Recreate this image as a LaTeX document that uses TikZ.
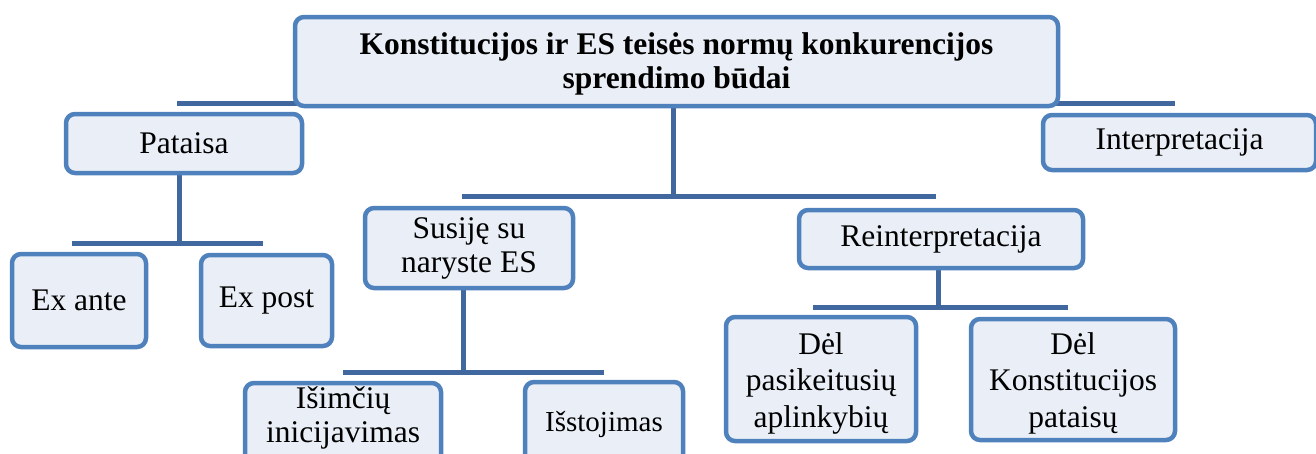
\documentclass[tikz,border=0pt]{standalone}
\usepackage{fontspec}
\setmainfont{Liberation Serif}
\definecolor{bord}{HTML}{4F81BD}
\definecolor{fillc}{HTML}{EAEFF7}
\definecolor{connc}{HTML}{41689E}
\pgfdeclarelayer{background}
\pgfsetlayers{background,main}
\begin{document}
\begin{tikzpicture}[x=1pt,y=-1pt,
  box/.style={draw=bord, fill=fillc, line width=4.5pt, rounded corners=9pt, inner sep=0pt, align=center, font=\fontsize{31.5}{34}\selectfont},
  link/.style={draw=connc, line width=5pt},
  txt/.style={inner sep=0pt, align=center, font=\fontsize{31.5}{34}\selectfont}]
\useasboundingbox (0,0) rectangle (1316,453);
\clip (0,0) rectangle (1316,453);

\node[box, minimum width=763, minimum height=89] (top) at (676.5,61.5) {};
\node[txt, font=\bfseries\fontsize{31.5}{34}\selectfont] (topT) at (676.5,63.5) {Konstitucijos ir ES teisės normų konkurencijos\\sprendimo būdai};
\node[box, minimum width=236, minimum height=59] (pataisa) at (184,143.5) {Pataisa};
\node[box, minimum width=273, minimum height=55] (interp) at (1179.5,142.5) {Interpretacija};
\node[box, minimum width=208, minimum height=80] (susije) at (469,248) {Susiję su\\naryste ES};
\node[box, minimum width=284, minimum height=58] (reint) at (941,239) {Reinterpretacija};
\node[box, minimum width=134, minimum height=93] (exante) at (79,300.5) {Ex ante};
\node[box, minimum width=131, minimum height=91] (expost) at (266.5,300.5) {Ex post};
\node[box, minimum width=196, minimum height=86] (isim) at (343,426) {};
\node[txt] (isimT) at (343,417.5) {Išimčių\\inicijavimas};
\node[box, minimum width=158, minimum height=84] (isst) at (604,424) {};
\node[txt, font=\fontsize{29}{32}\selectfont] (isstT) at (604,424) {Išstojimas};
\node[box, minimum width=190, minimum height=124] (del1) at (821,379) {};
\node[txt, font=\fontsize{31.5}{36.5}\selectfont] (del1T) at (821,383) {Dėl\\pasikeitusių\\aplinkybių};
\node[box, minimum width=204, minimum height=121] (del2) at (1073,379.5) {};
\node[txt, font=\fontsize{31.5}{36.5}\selectfont] (del2T) at (1073,383) {Dėl\\Konstitucijos\\pataisų};

\coordinate (lstub) at (177,103);
\coordinate (rstub) at (1175,103);
\coordinate (j1) at (673,196);
\coordinate (j1a) at (462,196);
\coordinate (j1b) at (936,196);
\coordinate (j2) at (179,243);
\coordinate (j2a) at (72,243);
\coordinate (j2b) at (263,243);
\coordinate (j3) at (463,372);
\coordinate (j4) at (938,307);
\coordinate (j4a) at (813,307);
\coordinate (j4b) at (1068,307);

\begin{pgfonlayer}{background}
\draw[link] (lstub) -- (lstub -| top.center);
\draw[link] (rstub) -- (rstub -| top.center);
\draw[link] (top.center -| j1) -- (j1);
\draw[link] (j1a) -- (j1b);
\draw[link] (pataisa.south -| j2) -- (j2);
\draw[link] (j2a) -- (j2b);
\draw[link] (susije.south -| j3) -- (j3);
\draw[link] (isim.north |- j3) -- (isst.north |- j3);
\draw[link] (reint.south -| j4) -- (j4);
\draw[link] (j4a) -- (j4b);
\end{pgfonlayer}
\end{tikzpicture}
\end{document}
